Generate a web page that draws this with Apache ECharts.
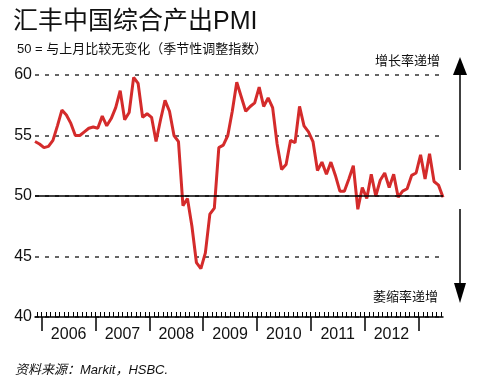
<!DOCTYPE html>
<html>
<head>
<meta charset="utf-8">
<script src="https://cdn.jsdelivr.net/npm/echarts@6/dist/echarts.min.js"></script>
<style>
html,body{margin:0;padding:0;background:#fff}
#chart{width:480px;height:376px}
</style>
</head>
<body>
<div id="chart"></div>
<script>
// monthly values, month 0 = Nov 2005
var years = ['2006', '2007', '2008', '2009', '2010', '2011', '2012'];
var firstJan = 2;
var pmi = [
	54.5, 54.3, 54.0, 54.1, 54.6, 55.8, 57.1, 56.7, 56.0, 55.0, 55.0, 55.3,
	55.6, 55.7, 55.6, 56.6, 55.8, 56.4, 57.3, 58.7, 56.3, 56.9, 59.8, 59.3,
	56.5, 56.8, 56.5, 54.5, 56.3, 57.9, 57.0, 55.0, 54.5, 49.2, 49.8, 47.5,
	44.5, 44.0, 45.3, 48.5, 49.0, 54.0, 54.2, 55.0, 57.0, 59.4, 58.2, 57.0,
	57.4, 57.7, 59.0, 57.4, 58.1, 57.3, 54.3, 52.2, 52.6, 54.6, 54.4, 57.4,
	55.8, 55.3, 54.5, 52.1, 52.8, 51.8, 52.8, 51.7, 50.4, 50.4, 51.4, 52.5,
	48.9, 50.7, 49.8, 51.8, 50.0, 51.3, 51.9, 50.7, 51.8, 49.9, 50.4, 50.6,
	51.7, 51.9, 53.4, 51.4, 53.5, 51.2, 50.9, 49.9
];
var yMin = 40, yMax = 60, yStep = 5;
var baseLine = 50;

var font = '"Liberation Sans", Arial, "Noto Sans CJK SC", sans-serif';
var lastIdx = pmi.length - 1;

var points = pmi.map(function(v, i) { return [i, v]; });
var monthTicks = [];
for (var k = 0; k < lastIdx; k++) monthTicks.push(k + 0.5);
var yearTicks = [];
for (var t = firstJan - 0.5; t < lastIdx; t += 12) yearTicks.push(t);
var yearLabelPos = years.map(function(y, j) { return yearTicks[j] + 6; });

var myChart = echarts.init(document.getElementById('chart'));
var option = {
	backgroundColor: '#fff',
	animation: false,
	grid: { left: 35, right: 37, top: 75, bottom: 59 },
	title: [
		{ text: '汇丰中国综合产出PMI', left: 8, top: 5,
		  textStyle: { fontSize: 25, fontWeight: 'normal', color: '#111', fontFamily: font } },
		{ text: '50 = 与上月比较无变化（季节性调整指数）', left: 12, top: 38,
		  textStyle: { fontSize: 13, fontWeight: 'normal', color: '#111', fontFamily: font } },
		{ text: '资料来源：Markit，HSBC.', left: 10, top: 359,
		  textStyle: { fontSize: 13, fontStyle: 'italic', fontWeight: 'normal', color: '#111', fontFamily: font } }
	],
	xAxis: [{
		type: 'value', min: 0, max: lastIdx, position: 'bottom',
		axisLine: { lineStyle: { color: '#000', width: 1.5 } },
		axisTick: { customValues: monthTicks, inside: true, length: 5, lineStyle: { color: '#000', width: 1 } },
		axisLabel: { show: false },
		splitLine: { show: false }
	}, {
		type: 'value', min: 0, max: lastIdx, position: 'bottom',
		axisLine: { show: false },
		axisTick: { customValues: yearTicks, length: 14, lineStyle: { color: '#000', width: 1.5 } },
		axisLabel: {
			customValues: yearLabelPos, margin: 10, fontSize: 16, color: '#111', fontFamily: font,
			formatter: function(v) { return years[Math.round((v - yearLabelPos[0]) / 12)]; }
		},
		splitLine: { show: false }
	}],
	yAxis: {
		type: 'value', min: yMin, max: yMax, interval: yStep,
		axisLine: { show: false },
		axisTick: { show: false },
		axisLabel: { fontSize: 16, color: '#111', margin: 3, fontFamily: font },
		splitLine: { lineStyle: { color: '#333', width: 1.5, type: [4, 6] } }
	},
	series: [{
		type: 'line', data: [], z: 1, silent: true,
		markLine: {
			symbol: 'none', silent: true, label: { show: false },
			lineStyle: { color: '#000', width: 1.5, type: 'solid' },
			data: [{ yAxis: baseLine }]
		}
	}, {
		type: 'line', data: points, z: 3, symbol: 'none',
		lineStyle: { color: '#d42b2b', width: 3 }
	}],
	graphic: [
		{ type: 'text', right: 40, top: 54,
		  style: { text: '增长率递增', fill: '#111', font: '13px "Noto Sans CJK SC", sans-serif' } },
		{ type: 'text', right: 42, top: 290,
		  style: { text: '萎缩率递增', fill: '#111', font: '13px "Noto Sans CJK SC", sans-serif' } },
		{ type: 'line', shape: { x1: 460, y1: 170, x2: 460, y2: 72 }, style: { stroke: '#000', lineWidth: 1.5 } },
		{ type: 'polygon', shape: { points: [[460, 57], [453, 75], [467, 75]] }, style: { fill: '#000' } },
		{ type: 'line', shape: { x1: 460, y1: 209, x2: 460, y2: 286 }, style: { stroke: '#000', lineWidth: 1.5 } },
		{ type: 'polygon', shape: { points: [[454, 283], [466, 283], [460, 303]] }, style: { fill: '#000' } }
	]
};
myChart.setOption(option);
</script>
</body>
</html>
